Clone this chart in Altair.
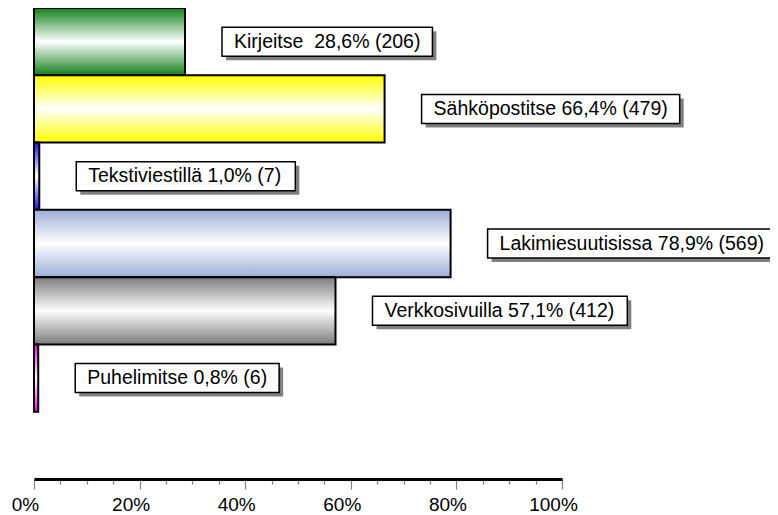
import altair as alt
import pandas as pd

# ---- data ----
categories = ["Kirjeitse", "Sähköpostitse", "Tekstiviestillä",
              "Lakimiesuutisissa", "Verkkosivuilla", "Puhelimitse"]
percents = [28.6, 66.4, 1.0, 78.9, 57.1, 0.8]
counts = [206, 479, 7, 569, 412, 6]
separators = ["\u00a0 ", " ", " ", " ", " ", " "]
tick_values = list(range(0, 101, 5))

# ---- styles ----
bar_colors = ["#11801a", "#ffff00", "#1010ff", "#9aaed6", "#7c7c7c", "#ff00ff"]
FONT = "Liberation Sans"
FS = 19.5
PLOT_W, PLOT_H = 528, 471

# Arial / Liberation Sans advance widths (per 1000 em) for measuring label boxes
AW = {" ": 278, "\u00a0": 278, "%": 889, "(": 333, ")": 333, ",": 278, "K": 667, "L": 556,
      "P": 667, "S": 667, "T": 611, "V": 667, "a": 556, "e": 556, "h": 556, "i": 222,
      "j": 222, "k": 500, "l": 222, "m": 833, "o": 556, "p": 556, "r": 333, "s": 500,
      "t": 278, "u": 556, "v": 500, "ä": 556, "ö": 556}


def text_width(s):
    return sum(AW.get(ch, 556) for ch in s) / 1000 * FS


labels = [f"{c}{sep}{p:.1f}% ({n})".replace(".", ",")
          for c, sep, p, n in zip(categories, separators, percents, counts)]

px = 100 / PLOT_W  # data units per pixel on the x scale
df = pd.DataFrame({"category": categories, "pct": percents, "label": labels})
df["box_end"] = df["pct"] + (df["label"].map(text_width) + 24) * px

x_scale = alt.Scale(domain=[0, 100], nice=False, zero=True)
y_scale = alt.Scale(domain=categories + [""], paddingInner=0, paddingOuter=0)

x_axis = alt.Axis(
    values=tick_values,
    labelExpr="datum.value % 20 == 0 ? datum.value + '%' : ''",
    tickSize={"condition": {"test": "datum.value % 20 == 0", "value": 10}, "value": 5},
    tickColor="#808080", tickWidth=1.2,
    domainColor="black", domainWidth=3,
    grid=False, title=None,
    labelFont=FONT, labelFontSize=19, labelColor="black",
    labelPadding=6, labelOffset=-9, labelFlush=False, labelOverlap=False, labelBound=False,
)
X = alt.X("pct:Q", scale=x_scale, axis=x_axis)
Y = alt.Y("category:N", scale=y_scale, axis=None)


def gradient(c):
    return alt.LinearGradient(
        gradient="linear", x1=0, y1=0, x2=0, y2=1,
        stops=[alt.GradientStop(color=c, offset=0),
               alt.GradientStop(color="white", offset=0.5),
               alt.GradientStop(color=c, offset=1)])


base = alt.Chart(df)
layers = []
for cat, col in zip(categories, bar_colors):
    layers.append(
        base.transform_filter(alt.datum.category == cat)
        .mark_bar(fill=gradient(col), stroke="black", strokeWidth=2)
        .encode(x=X, y=Y)
    )

shadow = base.mark_bar(height=29, xOffset=41, x2Offset=41, yOffset=4,
                       fill="#808080").encode(x=X, x2="box_end:Q", y=Y)

box = base.mark_bar(height=29, xOffset=37, x2Offset=37, fill="white",
                    stroke="black", strokeWidth=1.5).encode(x=X, x2="box_end:Q", y=Y)

text = base.mark_text(align="left", baseline="middle", dx=49, font=FONT,
                      fontSize=FS, color="black").encode(x=X, y=Y, text="label:N")

chart = alt.layer(*layers, shadow, box, text).properties(
    width=PLOT_W, height=PLOT_H, background="white",
    autosize=alt.AutoSizeParams(type="none"),
    padding={"left": 26, "top": 0, "right": 208, "bottom": 36},
).configure_view(stroke=None)

chart.save("out.html", embed_options={"renderer": "svg", "actions": False})
